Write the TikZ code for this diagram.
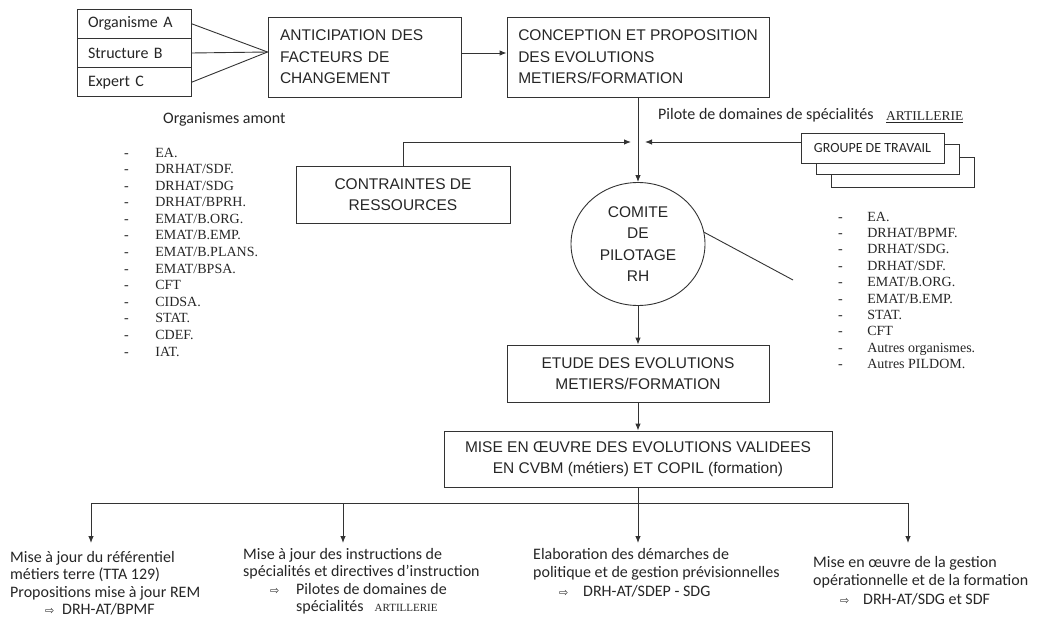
\documentclass[tikz,border=0pt]{standalone}
\usepackage{fontspec}
\setmainfont{Liberation Serif}
\newfontfamily\arialf{Liberation Sans}
\newfontfamily\calf{Carlito}
\newfontfamily\djv{DejaVu Sans}
\usetikzlibrary{arrows.meta,shapes.geometric,calc}
\newcommand\bxf{\arialf\fontsize{15.5}{21.5}\selectfont}
\newcommand\clf{\calf\fontsize{16}{17.5}\selectfont}
\newcommand\clfb{\calf\fontsize{16}{18.5}\selectfont}
\newcommand\grf{\calf\fontsize{14}{15}\selectfont}
\newcommand\tmf{\fontsize{14}{16.6}\selectfont}
\newcommand\tmfr{\fontsize{14}{16.4}\selectfont}
\newcommand\rarr{{\djv\fontsize{11}{11}\selectfont ⇨}}
\begin{document}
\begin{tikzpicture}[x=1pt,y=-1pt,
  every node/.style={text=black!85},
  ln/.style={draw=black!80, line width=0.9pt},
  box/.style={ln, rectangle, inner sep=0pt, fill=white},
  arr/.style={ln, -{Latex[length=7pt,width=5.5pt]}},
  stk/.style={box, minimum width=114, minimum height=29.3, text width=92, inner xsep=11, align=left, font=\clf},
]
\fill[white] (0,0) rectangle (1042,634);
\useasboundingbox (0,0) rectangle (1042,634);

% ---- source stack
\node[stk] (orgA) at (134,23.7) {Organisme A};
\node[stk] (strB) at (134,53) {Structure B};
\node[stk] (expC) at (134,82.3) {Expert C};

% ---- top boxes
\node[box, minimum width=193, minimum height=80, text width=169, inner xsep=12, align=left, font=\bxf] (antic) at (364.5,57) {ANTICIPATION DES\\FACTEURS DE\\CHANGEMENT};
\node[box, minimum width=262, minimum height=80, align=left, font=\bxf] (conc) at (638,57) {CONCEPTION ET PROPOSITION\\DES EVOLUTIONS\\METIERS/FORMATION};

\draw[ln] (orgA.east) -- ([yshift=5pt]antic.west);
\draw[ln] (strB.east) -- ([yshift=5pt]antic.west);
\draw[ln] (expC.east) -- ([yshift=5pt]antic.west);
\draw[arr] ([yshift=4pt]antic.east) -- ([yshift=4pt]conc.west);

\node[anchor=base west, inner sep=0, font=\clf] (amont) at (163,123) {Organismes amont};
\node[anchor=base west, inner sep=0, font=\clf] (pilote) at (658,120) {Pilote de domaines de spécialités};
\node[anchor=base west, inner sep=0, font=\fontsize{13.5}{14}\selectfont] (artil) at (886,121) {\underline{ARTILLERIE}};

% ---- left list
\node[anchor=base west, inner sep=0, font=\tmf] (llist) at (124,157) {\begin{tabular}[t]{@{}l@{\hspace{26.5pt}}l@{}}
-&EA.\\ -&DRHAT/SDF.\\ -&DRHAT/SDG\\ -&DRHAT/BPRH.\\ -&EMAT/B.ORG.\\ -&EMAT/B.EMP.\\ -&EMAT/B.PLANS.\\ -&EMAT/BPSA.\\ -&CFT\\ -&CIDSA.\\ -&STAT.\\ -&CDEF.\\ -&IAT.
\end{tabular}};

% ---- right list
\node[anchor=base west, inner sep=0, font=\tmfr] (rlist) at (838,221) {\begin{tabular}[t]{@{}l@{\hspace{24.5pt}}l@{}}
-&EA.\\ -&DRHAT/BPMF.\\ -&DRHAT/SDG.\\ -&DRHAT/SDF.\\ -&EMAT/B.ORG.\\ -&EMAT/B.EMP.\\ -&STAT.\\ -&CFT\\ -&Autres organismes.\\ -&Autres PILDOM.
\end{tabular}};

% ---- contraintes, groupe
\node[box, minimum width=214, minimum height=57, align=center, font=\bxf] (contr) at (403,194.5) {CONTRAINTES DE\\RESSOURCES};
\node[box, minimum width=143, minimum height=30] (grp3) at (902.5,172) {};
\node[box, minimum width=143, minimum height=30] (grp2) at (887.5,159) {};
\node[box, minimum width=143, minimum height=30, font=\grf] (grp) at (872.5,148) {GROUPE DE TRAVAIL};

% ---- comite
\node[ln, ellipse, minimum width=134, minimum height=123, inner sep=0pt, align=center, font=\bxf] (comite) at (638,244) {COMITE\\DE\\PILOTAGE\\RH};

\coordinate (jl) at (631,142);
\coordinate (jr) at (645,142);
\draw[arr] (conc.south) -- (comite.north);
\draw[arr] (contr.north) |- (jl);
\draw[arr] ([yshift=6pt]grp.west) -- (jr);

\coordinate (cl) at (793,280);
\draw[ln] (comite.10) -- (cl);

% ---- etude, mise
\node[box, minimum width=262, minimum height=57, align=center, font=\bxf] (etude) at (638,373.5) {ETUDE DES EVOLUTIONS\\METIERS/FORMATION};
\node[box, minimum width=388, minimum height=56, align=center, font=\bxf] (mise) at (638,459) {MISE EN ŒUVRE DES EVOLUTIONS VALIDEES\\EN CVBM (métiers) ET COPIL (formation)};
\draw[arr] (comite.south) -- (etude.north);
\draw[arr] (etude.south) -- (mise.north);

% ---- distribution
\coordinate (hc) at (638,503);
\coordinate (h1) at (91,503);
\coordinate (h2) at (343,503);
\coordinate (h4) at (908,503);
\coordinate (e1) at (91,543);
\coordinate (e2) at (343,543);
\coordinate (e3) at (638,543);
\coordinate (e4) at (908,543);
\draw[ln] (mise.south) -- (hc);
\draw[ln] (h1) -- (h4);
\draw[arr] (h1) -- (e1);
\draw[arr] (h2) -- (e2);
\draw[arr] (hc) -- (e3);
\draw[arr] (h4) -- (e4);

% ---- bottom texts
\node[anchor=base west, inner sep=0, font=\clf] (b1) at (10,562) {\begin{tabular}[t]{@{}l@{}}Mise à jour du référentiel\\métiers terre (TTA 129)\\Propositions mise à jour REM\\\hspace{35pt}\makebox[17pt][l]{\rarr}DRH-AT/BPMF\end{tabular}};
\node[anchor=base west, inner sep=0, font=\clf] (b2) at (243,559) {\begin{tabular}[t]{@{}l@{}}Mise à jour des instructions de\\spécialités et directives d’instruction\\\hspace{27pt}\makebox[26pt][l]{\rarr}Pilotes de domaines de\\\hspace{53pt}spécialités\hspace{11pt}{\rmfamily\fontsize{11}{12}\selectfont ARTILLERIE}\end{tabular}};
\node[anchor=base west, inner sep=0, font=\clfb] (b3) at (533,559) {\begin{tabular}[t]{@{}l@{}}Elaboration des démarches de\\politique et de gestion prévisionnelles\\\hspace{26pt}\makebox[24pt][l]{\rarr}DRH-AT/SDEP - SDG\end{tabular}};
\node[anchor=base west, inner sep=0, font=\clfb] (b4) at (813,567) {\begin{tabular}[t]{@{}l@{}}Mise en œuvre de la gestion\\opérationnelle et de la formation\\\hspace{27pt}\makebox[23pt][l]{\rarr}DRH-AT/SDG et SDF\end{tabular}};
\end{tikzpicture}
\end{document}
